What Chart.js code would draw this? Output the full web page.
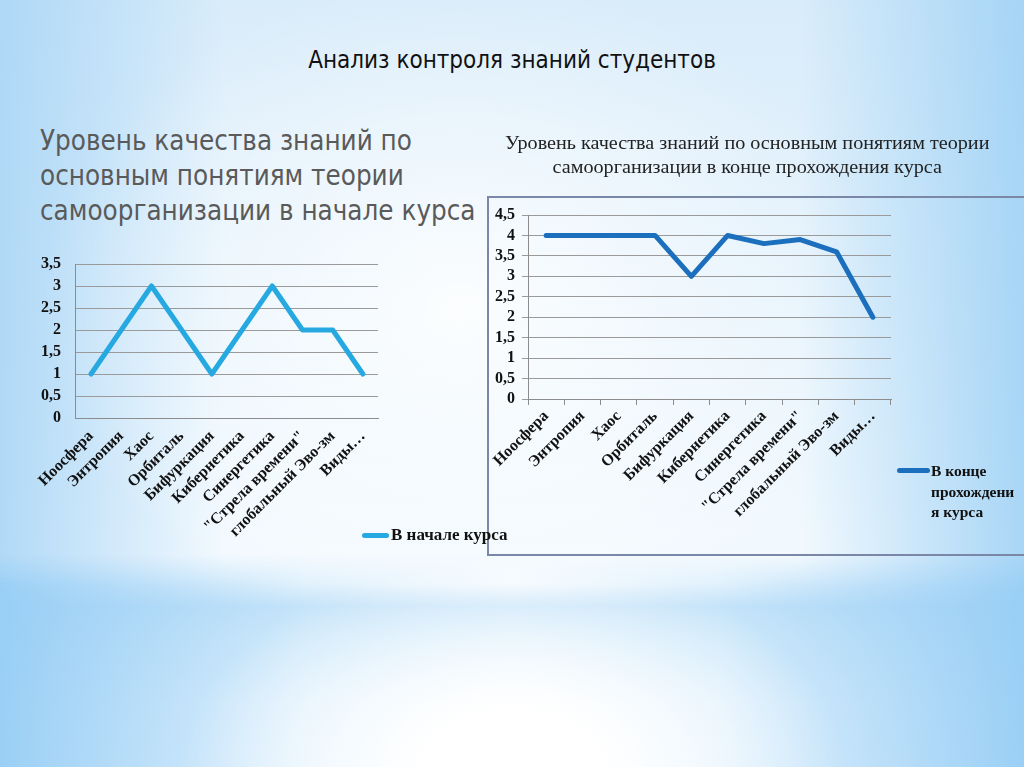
<!DOCTYPE html>
<html>
<head>
<meta charset="utf-8">
<script src="https://cdn.jsdelivr.net/npm/chart.js@4.4.1/dist/chart.umd.min.js"></script>
<style>
  html, body { margin: 0; padding: 0; }
  body { width: 1024px; height: 767px; position: relative; overflow: hidden;
    background:
      radial-gradient(ellipse 420px 330px at 45% 40%, rgba(255,255,255,0.85) 0%, rgba(255,255,255,0) 100%),
      linear-gradient(to right, rgba(170,214,246,0.9) 0%, rgba(220,238,251,0) 22%, rgba(220,238,251,0) 78%, rgba(160,210,245,0.9) 100%),
      linear-gradient(to bottom, #d9ecfa 0%, #e6f3fc 40%, #f2f9fe 70%, #f6fbff 100%);
  }
  #bottom { position: absolute; left: 0; top: 555px; width: 1024px; height: 212px;
    background:
      radial-gradient(ellipse 330px 210px at 50% 100%, #ffffff 25%, rgba(255,255,255,0) 100%),
      linear-gradient(to right, rgba(150,205,245,0.95) 0%, rgba(190,225,249,0.35) 30%, rgba(255,255,255,0) 50%, rgba(190,225,249,0.35) 70%, rgba(150,205,245,0.95) 100%),
      linear-gradient(to bottom, #f6fbff 0%, #f3f9fe 14%, #c9e5f9 24%, #d8edfb 40%, #eef7fe 70%, #f4faff 100%);
    -webkit-mask-image: linear-gradient(to bottom, transparent 0px, #000 30px);
    mask-image: linear-gradient(to bottom, transparent 0px, #000 30px);
  }
  .t { position: absolute; white-space: nowrap; }
  #title { left: 0; width: 1024px; top: 46px; text-align: center; font-family: "DejaVu Sans Condensed", "DejaVu Sans", sans-serif; font-size: 24px; color: #111; }
  #lefthead { left: 40px; top: 123px; font-family: "DejaVu Sans Condensed", "DejaVu Sans", sans-serif; font-size: 27.5px; line-height: 35px; color: #5a5a5a; }
  #righthead { left: 487px; width: 520px; top: 131px; text-align: center; font-family: "Liberation Serif", serif; font-size: 18px; line-height: 24px; color: #222; transform: scaleX(1.12); transform-origin: 258px 0; }
  #box { position: absolute; left: 487px; top: 196px; width: 560px; height: 356px; border: 2px solid #7b87a6; }
  canvas { position: absolute; }
  .leg { position: absolute; font-family: "Liberation Serif", serif; font-weight: bold; color: #111; }
  .sw { position: absolute; height: 5px; border-radius: 3px; }
</style>
</head>
<body>
<div id="bottom"></div>
<div id="title" class="t">Анализ контроля знаний студентов</div>
<div id="lefthead" class="t">Уровень качества знаний по<br>основным понятиям теории<br>самоорганизации в начале курса</div>
<div id="righthead" class="t">Уровень качества знаний по основным понятиям теории<br>самоорганизации в конце прохождения курса</div>
<div id="box"></div>
<canvas id="c1" width="360" height="309" style="left:30px; top:241px;"></canvas>
<canvas id="c2" width="410" height="350" style="left:490px; top:200px;"></canvas>
<div class="sw" id="sw1" style="left:362px; top:533px; width:27px;"></div>
<div class="leg" id="lg1" style="left:391px; top:525px; font-size:17px;"></div>
<div class="sw" id="sw2" style="left:897px; top:468px; width:33px;"></div>
<div class="leg" id="lg2" style="left:931px; top:461px; line-height:20.5px; font-size:15.5px;"></div>
<script>
const categories = ["Ноосфера", "Энтропия", "Хаос", "Орбиталь", "Бифуркация", "Кибернетика", "Синергетика", "\"Стрела времени\"", "глобальный Эво-зм", "Виды…"];
const startValues = [1, 2, 3, 2, 1, 2, 3, 2, 2, 1];
const endValues = [4, 4, 4, 4, 3, 4, 3.8, 3.9, 3.6, 2];
const startLabel = "В начале курса";
const endLabel = "В конце прохождения курса";
const endLabelLines = ["В конце", "прохождени", "я курса"];
const startTicksMax = 3.5;
const endTicksMax = 4.5;

const startColor = "#26a9e0";
const endColor = "#1b6fbd";

const fontFam = "'Liberation Serif', 'Times New Roman', serif";

function makeChart(id, values, label, color, ymax, cfg) {
  return new Chart(document.getElementById(id), {
    type: 'line',
    data: { labels: categories, datasets: [{ label: label, data: values, borderColor: color, backgroundColor: color,
      borderWidth: 5, pointRadius: 0, tension: 0, borderCapStyle: 'round', borderJoinStyle: 'round', fill: false }] },
    options: {
      responsive: false, animation: false, devicePixelRatio: 1,
      layout: { padding: { top: cfg.padTop, right: cfg.padRight, left: 0, bottom: 0 } },
      plugins: { legend: { display: false }, tooltip: { enabled: false } },
      scales: {
        x: {
          offset: true,
          grid: { display: true, offset: true, drawOnChartArea: false, drawTicks: cfg.xTicks, tickLength: 6, color: '#8c8c8c' },
          border: { display: true, color: '#8c8c8c', width: 1 },
          ticks: { autoSkip: false, minRotation: 45, maxRotation: 45, padding: cfg.xPad, color: '#111',
            font: { family: fontFam, weight: 'bold', size: 16 } },
          afterFit: s => { s.height = cfg.xHeight; }
        },
        y: {
          min: 0, max: ymax,
          grid: { color: '#9a9a9a', drawTicks: cfg.yTicks, tickLength: 6 },
          border: { display: true, color: '#8c8c8c', width: 1 },
          ticks: { stepSize: 0.5, autoSkip: false, maxTicksLimit: 20, padding: cfg.yPad, color: '#111',
            font: { family: fontFam, weight: 'bold', size: 16, lineHeight: 1 },
            callback: v => String(v).replace('.', ',') },
          afterFit: s => { s.width = cfg.yWidth; }
        }
      }
    }
  });
}

makeChart('c1', startValues, startLabel, startColor, startTicksMax,
  { padTop: 4, padRight: 12, xHeight: 132, yWidth: 45, yTicks: false, yPad: 15, xTicks: false, xPad: 9 });
makeChart('c2', endValues, endLabel, endColor, endTicksMax,
  { padTop: 12, padRight: 9, xHeight: 151, yWidth: 38, yTicks: true, yPad: 7, xTicks: true, xPad: 2 });

document.getElementById('sw1').style.background = startColor;
document.getElementById('sw2').style.background = endColor;
document.getElementById('lg1').textContent = startLabel;
document.getElementById('lg2').innerHTML = endLabelLines.join('<br>');
</script>
</body>
</html>
